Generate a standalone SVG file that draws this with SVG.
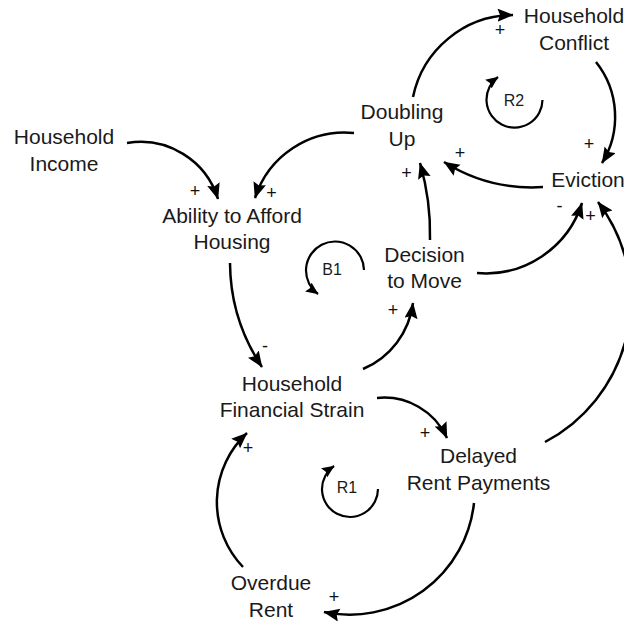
<svg xmlns="http://www.w3.org/2000/svg" width="624" height="626" viewBox="0 0 624 626">
<style>
.node text{font-family:"Liberation Sans",Arial,sans-serif;font-size:21px;fill:#1a1a1a;text-anchor:middle}
.link{fill:none;stroke:#000;stroke-width:2.5;marker-end:url(#arr)}
.loop path{fill:none;stroke:#000;stroke-width:2.2;marker-end:url(#arrs)}
.loop text{font-family:"Liberation Sans",Arial,sans-serif;font-size:16px;fill:#1a1a1a;text-anchor:middle}
.pol{font-family:"Liberation Sans",Arial,sans-serif;font-size:18px;fill:#111;text-anchor:middle}
</style>
<defs>
<marker id="arr" markerUnits="userSpaceOnUse" markerWidth="17" markerHeight="14" refX="15.5" refY="6.5" orient="auto">
<path d="M0,0 L16,6.5 L0,13 L2.5,6.5 Z" fill="#000"/>
</marker>
<marker id="arrs" markerUnits="userSpaceOnUse" markerWidth="14" markerHeight="12" refX="12" refY="5.5" orient="auto">
<path d="M0,0 L12.5,5.5 L0,11 L2,5.5 Z" fill="#000"/>
</marker>
</defs>
<rect width="624" height="626" fill="#fff"/>
<g id="connectors">
<path class="link" d="M127,143 A81,81 0 0 1 218,199"/>
<path class="link" d="M354,133 A94,94 0 0 0 255,198"/>
<path class="link" d="M413,97 A103,103 0 0 1 513,15"/>
<path class="link" d="M596,62 A88,88 0 0 1 602,163"/>
<path class="link" d="M543,187 A166,166 0 0 1 444,162"/>
<path class="link" d="M430,240 A252,252 0 0 0 420,163"/>
<path class="link" d="M477,273 A101,101 0 0 0 582,203"/>
<path class="link" d="M545,442 A161,161 0 0 0 598,202"/>
<path class="link" d="M230,263 A189,189 0 0 0 262,367"/>
<path class="link" d="M363,369 A83,83 0 0 0 413,303"/>
<path class="link" d="M377,398 A69,69 0 0 1 447,438"/>
<path class="link" d="M474,503 A125,125 0 0 1 324,612"/>
<path class="link" d="M243,567 A94,94 0 0 1 247,433"/>
<text class="pol" x="195" y="196.5">+</text>
<text class="pol" x="271.5" y="198.5">+</text>
<text class="pol" x="500" y="36">+</text>
<text class="pol" x="589" y="150">+</text>
<text class="pol" x="460" y="158.5">+</text>
<text class="pol" x="406.5" y="179">+</text>
<text class="pol" x="559.5" y="211.5">-</text>
<text class="pol" x="590.5" y="222">+</text>
<text class="pol" x="265" y="351.5">-</text>
<text class="pol" x="393" y="316">+</text>
<text class="pol" x="425" y="439">+</text>
<text class="pol" x="248" y="454">+</text>
<text class="pol" x="334" y="602.5">+</text>
</g>
<g id="loop-R2" class="loop">
<path d="M542.5,100 A28,28 0 1 1 498,77"/>
<text x="514" y="106">R2</text>
</g>
<g id="loop-B1" class="loop">
<path d="M364,270 A29,29 0 1 0 318,294"/>
<text x="332" y="275">B1</text>
</g>
<g id="loop-R1" class="loop">
<path d="M378,489 A28,28 0 1 1 334,466"/>
<text x="347" y="493">R1</text>
</g>
<g id="household-conflict" class="node">
<text x="574" y="23">Household</text>
<text x="574" y="49.5">Conflict</text>
</g>
<g id="doubling-up" class="node">
<text x="402" y="119">Doubling</text>
<text x="402" y="145.5">Up</text>
</g>
<g id="household-income" class="node">
<text x="64" y="144">Household</text>
<text x="64" y="170.5">Income</text>
</g>
<g id="ability-to-afford-housing" class="node">
<text x="232" y="222.5">Ability to Afford</text>
<text x="232" y="249">Housing</text>
</g>
<g id="eviction" class="node">
<text x="588" y="186.5">Eviction</text>
</g>
<g id="decision-to-move" class="node">
<text x="424.5" y="261.5">Decision</text>
<text x="424.5" y="288">to Move</text>
</g>
<g id="household-financial-strain" class="node">
<text x="292" y="390.5">Household</text>
<text x="292" y="417">Financial Strain</text>
</g>
<g id="delayed-rent-payments" class="node">
<text x="478.5" y="463">Delayed</text>
<text x="478.5" y="490">Rent Payments</text>
</g>
<g id="overdue-rent" class="node">
<text x="271" y="590">Overdue</text>
<text x="271" y="617">Rent</text>
</g>
</svg>
